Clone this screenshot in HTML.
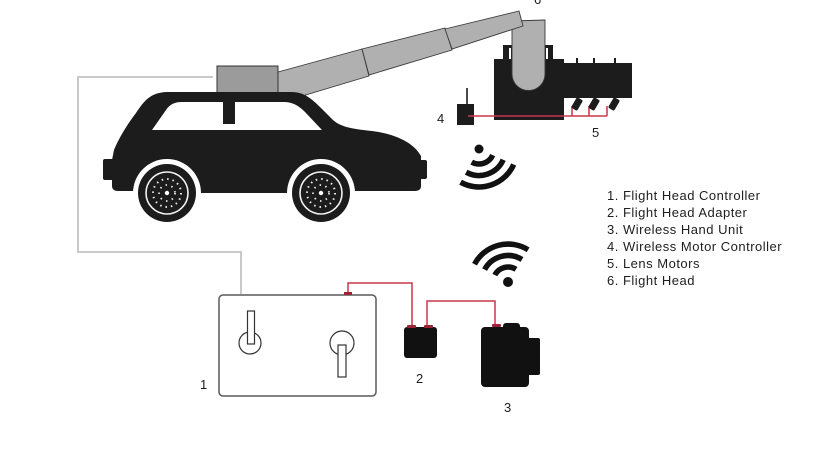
<!DOCTYPE html>
<html><head><meta charset="utf-8"><style>
html,body{margin:0;padding:0;background:#fff;}
body{width:824px;height:463px;overflow:hidden;}
svg{display:block;}
text{font-family:"Liberation Sans",sans-serif;fill:#1e1e1e;}
</style></head><body>
<svg width="824" height="463" viewBox="0 0 824 463" xmlns="http://www.w3.org/2000/svg">
<!-- controller gray cable -->
<path d="M213 77 H78 V252 H241 V294" fill="none" stroke="#c9c9c9" stroke-width="2"/>

<!-- arm segment 1 & 2 -->
<polygon points="278,72 362,49 369,76 292,99 278,99" fill="#b0b0b0" stroke="#3a3a3a" stroke-width="0.9"/>
<polygon points="362,49 445,28 452,50 369,75" fill="#b0b0b0" stroke="#3a3a3a" stroke-width="0.9"/>

<!-- roof box -->
<rect x="217" y="66" width="61" height="27" fill="#9b9b9b" stroke="#333" stroke-width="1"/>

<!-- car body -->
<path d="M112 160 L114 150 C118 140 126 126 136 113 C144 101 150 93 166 92 L292 92 C304 92 312 99 321 108 L333 120 C341 127 352 129 372 131 C396 134 414 143 421 156 L421 186 C421 190 418 191 414 191 L118 191 C114 191 112 189 112 186 Z" fill="#1c1c1c"/>
<rect x="103" y="159" width="12" height="21" rx="2" fill="#1c1c1c"/>
<rect x="416" y="160" width="11" height="19" rx="2" fill="#1c1c1c"/>
<rect x="200" y="186" width="90" height="7" fill="#1c1c1c"/>
<!-- window -->
<path d="M152 130 L166 110 C170 104 175 102 182 102 L284 102 C292 102 298 105 305 112 L322 130 Z" fill="#fff"/>
<rect x="223" y="101" width="12" height="23" fill="#1c1c1c"/>

<!-- wheels -->
<g>
<circle cx="167" cy="193" r="34" fill="#fff"/>
<circle cx="321" cy="193" r="34" fill="#fff"/>
<rect x="120" y="193" width="250" height="40" fill="#fff"/>
<circle cx="167" cy="193" r="29" fill="#1c1c1c"/>
<circle cx="321" cy="193" r="29" fill="#1c1c1c"/>
<circle cx="167" cy="193" r="21" fill="none" stroke="#f2f2f2" stroke-width="1.6"/>
<circle cx="321" cy="193" r="21" fill="none" stroke="#f2f2f2" stroke-width="1.6"/>
<circle cx="167" cy="193" r="14" fill="none" stroke="#e8e8e8" stroke-width="2" stroke-dasharray="1.5 4"/>
<circle cx="321" cy="193" r="14" fill="none" stroke="#e8e8e8" stroke-width="2" stroke-dasharray="1.5 4"/>
<circle cx="167" cy="193" r="8" fill="none" stroke="#e8e8e8" stroke-width="1.8" stroke-dasharray="1.5 4.5"/>
<circle cx="321" cy="193" r="8" fill="none" stroke="#e8e8e8" stroke-width="1.8" stroke-dasharray="1.5 4.5"/>
<circle cx="167" cy="193" r="2.2" fill="#fff"/>
<circle cx="321" cy="193" r="2.2" fill="#fff"/>
</g>

<!-- camera body -->
<rect x="503" y="45" width="9" height="15" fill="#1c1c1c"/>
<rect x="545" y="45" width="8" height="15" fill="#1c1c1c"/>
<rect x="509" y="48" width="2" height="11" fill="#fff"/>
<rect x="546" y="48" width="2" height="11" fill="#fff"/>
<rect x="494" y="59" width="70" height="61" fill="#1c1c1c"/>
<rect x="563" y="63" width="69" height="35" fill="#1c1c1c"/>
<rect x="576" y="58" width="2" height="6" fill="#1c1c1c"/>
<rect x="593" y="58" width="2" height="6" fill="#1c1c1c"/>
<rect x="614" y="58" width="2" height="6" fill="#1c1c1c"/>
<!-- vertical gray bar -->
<path d="M512 21 L545 20 L545 74 A16.5 16.5 0 0 1 512 74 Z" fill="#b0b0b0" stroke="#3a3a3a" stroke-width="0.9"/>
<!-- arm segment 3 -->
<polygon points="445,29 519,11 523,26 452,49" fill="#b0b0b0" stroke="#3a3a3a" stroke-width="0.9"/>

<!-- motor controller 4 -->
<line x1="467" y1="88" x2="467" y2="104" stroke="#1c1c1c" stroke-width="1.6"/>
<rect x="457" y="104" width="17" height="21" fill="#1c1c1c"/>
<!-- red wiring to motors -->
<path d="M468 116 H607 M572 116 V106 M589 116 V106 M607 116 V106" fill="none" stroke="#c8364c" stroke-width="1.5"/>
<!-- lens motors -->
<g fill="#1c1c1c">
<rect x="-3.5" y="-6" width="7" height="12" rx="1.5" transform="translate(577 104) rotate(30)"/>
<rect x="-3.5" y="-6" width="7" height="12" rx="1.5" transform="translate(594 104) rotate(30)"/>
<rect x="-3.5" y="-6" width="7" height="12" rx="1.5" transform="translate(614 104) rotate(30)"/>
</g>

<!-- wifi 1 -->
<circle cx="479" cy="149" r="4.5" fill="#111"/>
<path d="M492.7 155.1 A15 15 0 0 1 471.7 162.1 M503.2 159.8 A26.5 26.5 0 0 1 466.2 172.2 M513.7 164.5 A38 38 0 0 1 460.6 182.2" fill="none" stroke="#111" stroke-width="5.5"/>

<!-- wifi 2 -->
<circle cx="508" cy="282" r="5" fill="#111"/>
<path d="M494.8 275.0 A15 15 0 0 1 516.0 269.3 M484.6 269.6 A26.5 26.5 0 0 1 522.0 259.5 M474.5 264.2 A38 38 0 0 1 528.1 249.8" fill="none" stroke="#111" stroke-width="5.5"/>

<!-- controller 1 -->
<rect x="219" y="295" width="157" height="101" rx="4" fill="#fff" stroke="#5a5a5a" stroke-width="1.5"/>
<circle cx="250" cy="343" r="11" fill="#fff" stroke="#333" stroke-width="1.2"/>
<rect x="247.5" y="311" width="7" height="33" fill="#fff" stroke="#333" stroke-width="1.2"/>
<circle cx="342" cy="343" r="12" fill="#fff" stroke="#333" stroke-width="1.2"/>
<rect x="338" y="345" width="8" height="32" fill="#fff" stroke="#333" stroke-width="1.2"/>

<!-- red cables -->
<path d="M348 294 V283 H412 V327" fill="none" stroke="#c8364c" stroke-width="1.5"/>
<path d="M427 327 V301 H495 V325" fill="none" stroke="#c8364c" stroke-width="1.5"/>
<rect x="344" y="292" width="8" height="3" fill="#9c2436"/>

<!-- adapter 2 -->
<rect x="404" y="327" width="33" height="31" rx="3" fill="#111"/>
<rect x="407" y="325" width="9" height="3" rx="1" fill="#9c2436"/>
<rect x="424" y="325" width="9" height="3" rx="1" fill="#9c2436"/>

<!-- hand unit 3 -->
<rect x="503" y="323" width="17" height="10" rx="3" fill="#111"/>
<rect x="481" y="327" width="48" height="60" rx="4" fill="#111"/>
<rect x="527" y="338" width="13" height="37" rx="2" fill="#111"/>
<rect x="492" y="324" width="9" height="3" rx="1" fill="#9c2436"/>

<!-- number labels -->
<g font-size="13">
<text x="534" y="4">6</text>
<text x="437" y="123">4</text>
<text x="592" y="137">5</text>
<text x="200" y="389">1</text>
<text x="416" y="383">2</text>
<text x="504" y="412">3</text>
</g>

<!-- legend -->
<g font-size="13" letter-spacing="0.5">
<text x="607" y="200">1. Flight Head Controller</text>
<text x="607" y="217">2. Flight Head Adapter</text>
<text x="607" y="234">3. Wireless Hand Unit</text>
<text x="607" y="251">4. Wireless Motor Controller</text>
<text x="607" y="268">5. Lens Motors</text>
<text x="607" y="285">6. Flight Head</text>
</g>
</svg>
</body></html>
